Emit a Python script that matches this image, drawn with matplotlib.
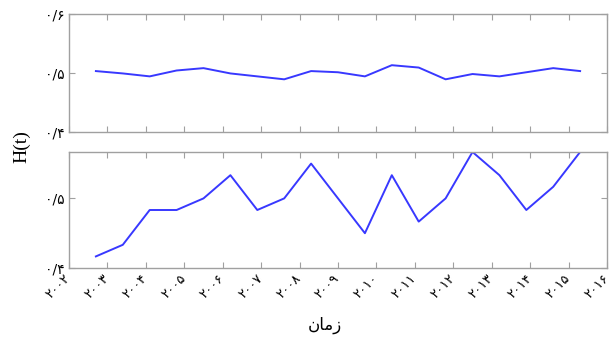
import numpy as np
import matplotlib
matplotlib.use("Agg")
import matplotlib.pyplot as plt
import matplotlib.transforms as mtransforms

###############################################################################

# sample times (years) shared by both panels
years = [2002.7, 2003.4, 2004.1, 2004.8, 2005.5, 2006.2, 2006.9, 2007.6, 2008.3, 2009.0,
         2009.7, 2010.4, 2011.1, 2011.8, 2012.5, 2013.2, 2013.9, 2014.6, 2015.3]

# upper panel H(t)
hTop = [0.503, 0.499, 0.494, 0.504, 0.508, 0.499, 0.494, 0.489, 0.503, 0.501,
        0.494, 0.513, 0.509, 0.489, 0.498, 0.494, 0.501, 0.508, 0.503]

# lower panel H(t)
hBottom = [25, 26, 29, 29, 30, 32, 29, 30, 33, 30, 27, 32, 28, 30, 34, 32, 29, 31, 34]
hBottom = [v / 60.0 for v in hBottom]

xTicks = list(range(2002, 2017))
topYTicks = [0.4, 0.5, 0.6]
bottomYTicks = [0.4, 0.5]

###############################################################################

faDigits = str.maketrans("0123456789.", "۰۱۲۳۴۵۶۷۸۹/")

def fa(s):
    return str(s).translate(faDigits)

def styleAxes(ax, yticks, ylim):
    ax.set_xlim(2002, 2016)
    ax.set_ylim(*ylim)
    ax.set_xticks(xTicks)
    ax.set_yticks(yticks)
    ax.set_yticklabels([fa("%.1f" % v) for v in yticks], fontsize=10)
    for s in ax.spines.values():
        s.set_color("#a0a0a0")
        s.set_linewidth(1.0)
    ax.tick_params(direction="in", length=4, width=0.8, color="#a0a0a0",
                   top=True, right=True, pad=3)

fig = plt.figure(figsize=(6.11, 3.37), dpi=100)
axTop = fig.add_axes([0.1129, 0.6092, 0.8806, 0.3493])
axBot = fig.add_axes([0.1129, 0.2047, 0.8806, 0.3443])

lineColor = "#3838ff"
axTop.plot(years, hTop, color=lineColor, lw=1.4)
axBot.plot(years, hBottom, color=lineColor, lw=1.4)

styleAxes(axTop, topYTicks, (0.4, 0.6))
styleAxes(axBot, bottomYTicks, (0.4, 34 / 60.0))
axTop.set_xticklabels([])
axBot.set_xticklabels([fa(y) for y in xTicks], rotation=45, ha="right",
                      va="top", rotation_mode="anchor", fontsize=9.5)
shift = mtransforms.ScaledTranslation(-5 / 100, 0, fig.dpi_scale_trans)
for lab in axBot.get_xticklabels():
    lab.set_transform(lab.get_transform() + shift)

fig.text(0.035, 0.565, "H(t)", rotation=90, ha="center", va="center",
         family="Liberation Serif", fontsize=14)
# "زمان" written in its visual (shaped) form so it renders right to left
fig.text(0.531, 0.008, "\ufee5\ufe8e\ufee3\ufeaf", ha="center", va="bottom",
         family=["DejaVu Sans"], fontsize=12)

plt.savefig("out.png", dpi=100)
